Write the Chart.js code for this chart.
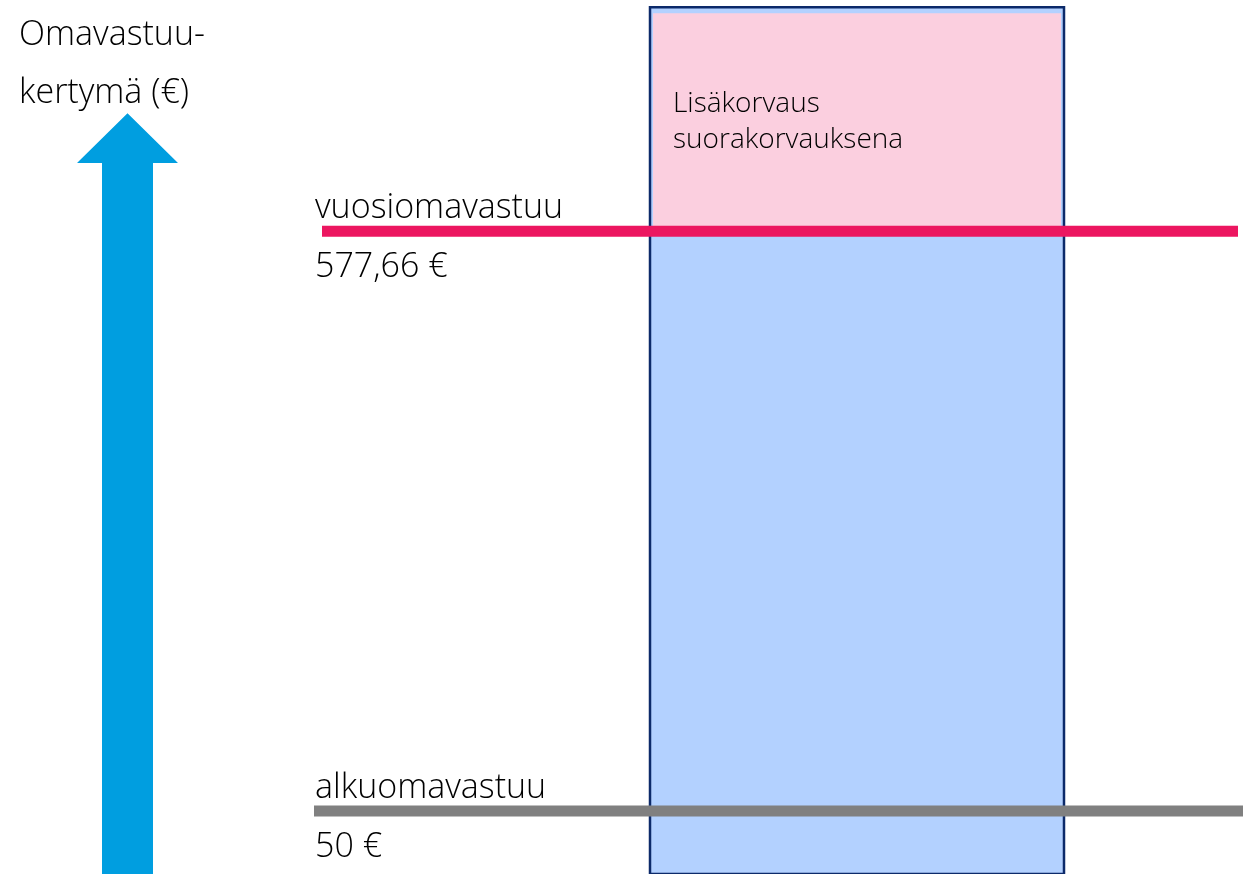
<!DOCTYPE html>
<html>
<head>
<meta charset="utf-8">
<script src="https://cdn.jsdelivr.net/npm/chart.js@4/dist/chart.umd.min.js"></script>
<style>
  html, body { margin: 0; padding: 0; background: #fff; }
  #wrap { width: 1243px; height: 874px; }
</style>
</head>
<body>
<div id="wrap"><canvas id="kaavio" width="1243" height="874"></canvas></div>
<script>
// omavastuun tasot (€)
var tasot = ['alkuomavastuu', 'vuosiomavastuu'];
var tasoArvot = [50, 577.66];
var tasoTekstit = ['50 €', '577,66 €'];

// y-akselin otsikko
var akseliOtsikko = ['Omavastuu-', 'kertymä (€)'];

// lisäkorvauksen laatikko
var lisaTeksti = ['Lisäkorvaus', 'suorakorvauksena'];

// asteikot (x vaakasuunnassa 0..1243, y = omavastuukertymä)
var xMin = 0, xMax = 1243;
var yMin = -7.3, yMax = 788;

// viivojen vaakavälit
var tasoAlku = [314, 322];
var tasoLoppu = [1243, 1238];

// laatikot
var laatikkoX = [650, 1064];
var laatikkoY = [yMin, 781.5];
var lisaY = [581, 776];

// nuoli
var nuoliVarsi = [102, 153];
var nuoliKarki = [77, 178];
var nuoliKanta = 639.6;
var nuoliHuippu = 685;

function suorakulmio(x0, x1, y0, y1) {
  return [{x: x0, y: y0}, {x: x0, y: y1}, {x: x1, y: y1}, {x: x1, y: y0}, {x: x0, y: y0}];
}

var vari = ['#808080', '#ec1660'];
var datasets = [];

datasets.push({
  label: 'omavastuukertymä',
  data: suorakulmio(laatikkoX[0], laatikkoX[1], laatikkoY[0], laatikkoY[1]),
  showLine: true,
  fill: 'shape',
  backgroundColor: '#b3d1ff',
  borderColor: '#0c2a6a',
  borderWidth: 2.5,
  pointRadius: 0,
  order: 5,
  clip: false
});
datasets.push({
  label: 'lisäkorvaus',
  data: suorakulmio(laatikkoX[0] + 3, laatikkoX[1] - 3, lisaY[0], lisaY[1]),
  showLine: true,
  fill: 'shape',
  backgroundColor: '#fbcfdf',
  borderColor: 'rgba(0,0,0,0)',
  borderWidth: 0,
  pointRadius: 0,
  order: 4,
  clip: false
});
for (var i = 0; i < tasot.length; i++) {
  datasets.push({
    label: tasot[i],
    data: [{x: tasoAlku[i], y: tasoArvot[i]}, {x: tasoLoppu[i], y: tasoArvot[i]}],
    showLine: true,
    fill: false,
    borderColor: vari[i],
    borderWidth: 11,
    borderCapStyle: 'butt',
    pointRadius: 0,
    order: 2,
    clip: false
  });
}
var keski = (nuoliVarsi[0] + nuoliVarsi[1]) / 2;
datasets.push({
  label: 'nuoli',
  data: [
    {x: nuoliVarsi[0], y: yMin - 2},
    {x: nuoliVarsi[0], y: nuoliKanta},
    {x: nuoliKarki[0], y: nuoliKanta},
    {x: keski, y: nuoliHuippu},
    {x: nuoliKarki[1], y: nuoliKanta},
    {x: nuoliVarsi[1], y: nuoliKanta},
    {x: nuoliVarsi[1], y: yMin - 2},
    {x: nuoliVarsi[0], y: yMin - 2}
  ],
  showLine: true,
  fill: 'shape',
  backgroundColor: '#009ee0',
  borderColor: '#009ee0',
  borderWidth: 0,
  pointRadius: 0,
  order: 1,
  clip: false
});

var FONTTI = '"Open Sans", "Noto Sans", sans-serif';

var tekstit = {
  id: 'tekstit',
  afterDatasetsDraw: function(chart) {
    var ctx = chart.ctx;
    var xs = chart.scales.x, ys = chart.scales.y;
    ctx.save();
    ctx.fillStyle = '#000';
    ctx.textAlign = 'left';
    ctx.textBaseline = 'alphabetic';
    ctx.font = '300 34px ' + FONTTI;
    // akselin otsikko
    ctx.fillText(akseliOtsikko[0], 19, 45);
    ctx.fillText(akseliOtsikko[1], 19, 103);
    // tasojen nimet ja arvot
    for (var i = 0; i < tasot.length; i++) {
      var py = ys.getPixelForValue(tasoArvot[i]);
      var px = xs.getPixelForValue(315);
      ctx.fillText(tasot[i], px, py - 13);
      ctx.fillText(tasoTekstit[i], px, py + 46);
    }
    // lisäkorvauksen teksti
    ctx.font = '300 28px ' + FONTTI;
    var lx = xs.getPixelForValue(laatikkoX[0] + 23);
    ctx.fillText(lisaTeksti[0], lx, 112);
    ctx.fillText(lisaTeksti[1], lx, 148);
    ctx.restore();
  }
};

var ctx = document.getElementById('kaavio');
var kaavio = new Chart(ctx, {
  type: 'scatter',
  data: { datasets: datasets },
  options: {
    responsive: false,
    animation: false,
    layout: { padding: 0 },
    plugins: {
      legend: { display: false },
      tooltip: { enabled: false },
      title: { display: false }
    },
    scales: {
      x: { type: 'linear', min: xMin, max: xMax, display: false },
      y: { type: 'linear', min: yMin, max: yMax, display: false }
    }
  },
  plugins: [tekstit]
});
</script>
</body>
</html>
